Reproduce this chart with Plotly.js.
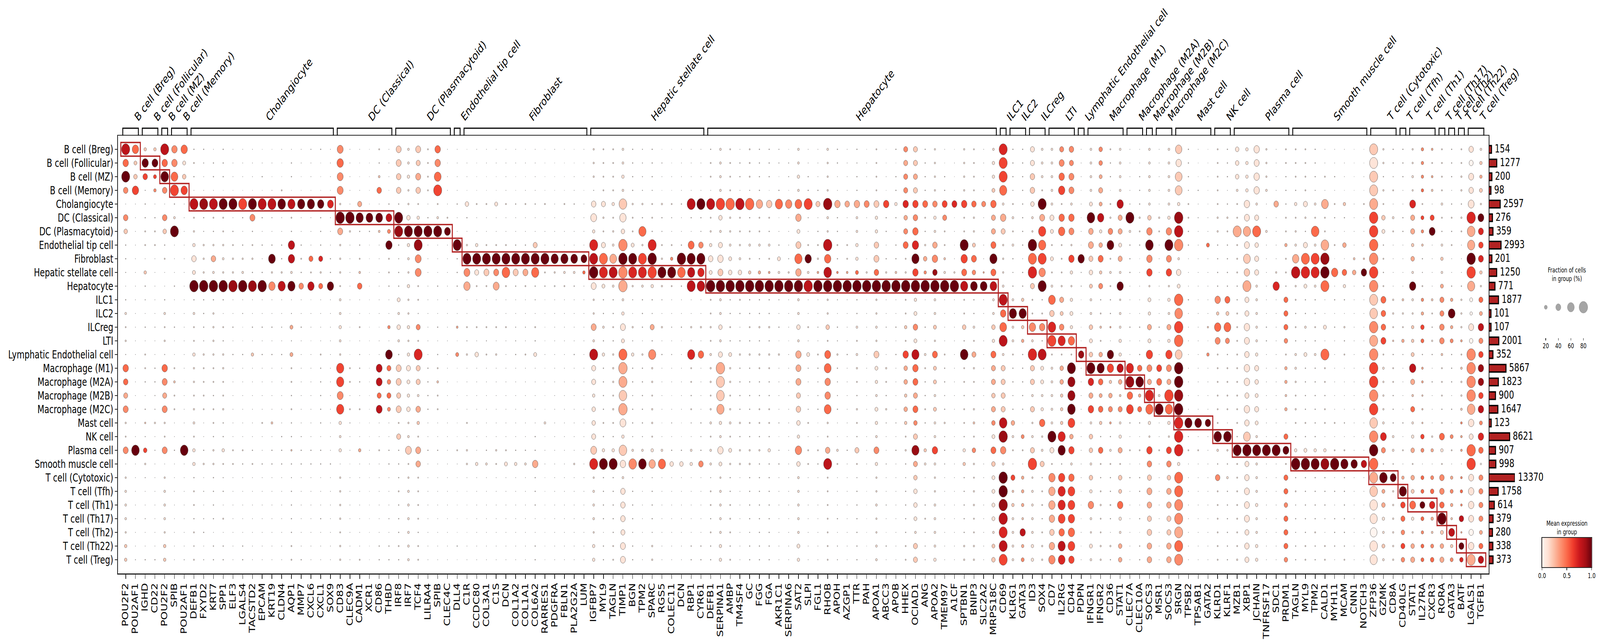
<!DOCTYPE html>
<html>
<head>
<meta charset="utf-8">
<script src="https://cdn.plot.ly/plotly-3.0.1.min.js"></script>
<style>html,body{margin:0;padding:0;background:#fff;overflow:hidden}</style>
</head>
<body>
<div id="plot"></div>
<script>
const cellTypes = ['B cell (Breg)','B cell (Follicular)','B cell (MZ)','B cell (Memory)','Cholangiocyte','DC (Classical)','DC (Plasmacytoid)','Endothelial tip cell','Fibroblast','Hepatic stellate cell','Hepatocyte','ILC1','ILC2','ILCreg','LTI','Lymphatic Endothelial cell','Macrophage (M1)','Macrophage (M2A)','Macrophage (M2B)','Macrophage (M2C)','Mast cell','NK cell','Plasma cell','Smooth muscle cell','T cell (Cytotoxic)','T cell (Tfh)','T cell (Th1)','T cell (Th17)','T cell (Th2)','T cell (Th22)','T cell (Treg)'];
const cellCounts = [154,1277,200,98,2597,276,359,2993,201,1250,771,1877,101,107,2001,352,5867,1823,900,1647,123,8621,907,998,13370,1758,614,379,280,338,373];
const markerCounts = [2,2,1,2,15,6,6,1,13,12,30,1,2,2,3,1,4,2,1,2,4,2,6,8,3,1,3,1,1,1,2];
const genes = ['POU2F2','POU2AF1','IGHD','CD22','POU2F2','SPIB','POU2AF1','DEFB1','FXYD2','KRT7','SPP1','ELF3','LGALS4','TACSTD2','EPCAM','KRT19','CLDN4','AQP1','MMP7','CXCL6','CXCL1','SOX9','CD83','CLEC9A','CADM1','XCR1','CD86','THBD','IRF8','IRF7','TCF4','LILRA4','SPIB','CLEC4C','DLL4','C1R','CCDC80','COL3A1','C1S','DCN','COL1A2','COL1A1','COL6A2','RARRES1','PDGFRA','FBLN1','PLA2G2A','LUM','IGFBP7','MYL9','TAGLN','TIMP1','BGN','TPM2','SPARC','RGS5','COLEC11','DCN','RBP1','CYR61','DEFB1','SERPINA1','AMBP','TM4SF4','GC','FGG','FGA','AKR1C1','SERPINA6','SAT2','SLPI','FGL1','RHOB','APOH','AZGP1','TTR','PAH','APOA1','ABCC3','APOB','HHEX','OCIAD1','ANG','APOA2','TMEM97','A1CF','SPTBN1','BNIP3','SLC2A2','MRPS18C','CD69','KLRG1','GATA3','ID3','SOX4','CD7','IL2RG','CD44','PDPN','IFNGR1','IFNGR2','CD36','STAT1','CLEC7A','CLEC10A','SOCS3','MSR1','SOCS3','SRGN','TPSB2','TPSAB1','GATA2','KLRD1','KLRF1','MZB1','XBP1','JCHAIN','TNFRSF17','SDC1','PRDM1','TAGLN','MYL9','TPM2','CALD1','MYH11','MCAM','CNN1','NOTCH3','ZFP36','GZMK','CD8A','CD40LG','STAT1','IL27RA','CXCR3','RORA','GATA3','BATF','LGALS1','TGFB1'];

// one string per gene, one letter per cell type (spaces only group the rows)
const fractionLetters = {'.':0.5,a:1,b:2,c:3,d:5,e:7,f:10,g:15,h:20,i:25,j:30,k:35,l:40,m:45,n:50,o:55,p:60,q:65,r:70,s:75,t:80};
const fractionByGene = [
'smsk akiccba cfdeb mkjl edla efffegg','ohio aaaaaaa aaaaa aaaa aara aaaaaab','gokb ccddagc bacad dcac ebie baabaac','gnhg acddaaa aabaa ccbb eaba aaaaaac','smrk akicdaa cfdeb mljl edla efffegg','mmps cfsaaac aacaa dfdd aaca aaaaaaa','ohio aaaaaaa aaaaa aaaa aara aaaaaab',
'cdca sdegkht cfddg eede fdgg cddcdcd','cbaa scbeeet cccbe dddd aace ababcab','acca sdcekft ceeee ddcd dcee ccccacc','ccc. sddefet cadce edde ccgd bcadacc','aaa. sacdeet aacac aaaa aadd aaaaaaa','aaa. scaceft ab..c aaaa aadc aaaaacc','aaa. slcdecs aacag aaaa aacd aaaaaaa','.ac. scacact aacac aaaa daac aaaaaaa','.a.a sbacpeo aacac aaaa facc aaaaaaa','a..d raacceq aabac aaaa accc aaaaaaa','acc. qdcoofq abhbh ddcd ccec bccccdd','aa.. qaacdck aacaa aaaa abcc aaaaaac','baa. qaaajdo .aa.a aaaa aacc aaaaaaa','c... occcjej aaaad cccc cacc aaacaaa','aaa. naaacco aaaaa aaaa aaac aaaaaaa',
'nonn etleeed ffgfe qqnq gfga eeeedee','aaaa ateaaaa a.... ddad baa. aaaaaaa','a..a jqccdfk aadab ccad .aga aaaaaad','.... .pc.... ..... .... ..aa .......','dcfk apfaaaa aa.aa nnjn aada aaaaacc','aaa. cnhoddc aagap jijh aacc aaabacc',
'llkk csscbcc hfifc lljl djcc cdcccdc','ffge eisgfeg eegeg jhgi efnd effffff','ljlk dgssnnd dbjds jjfk gdlk ddddcdd','dddd acsaaaa aaaaa cccc aaca aaaaaaa','mmps dfsaaac aacac dfdd aaca aaaaaaa','a.aa adnaaaa aaaaa aaaa aaaa aaaaaaa','aaaa caasccc aaf.h .... ..da .....c.',
'.aa. icaesno aadbe aaaa daee a....aa','a... daagsjd a.dai aaaa aaag aaaaaaa','aa.. daadsld a.dbd aaaa aacf aaaaaaa','aa.. haadsln aadae aaaa aaed aaaaaaa','aaaa daadsrd aadaa aaaa aadh aaaaaaa','aa.. caacslc aabbc aaaa aacg aaaaaaa','.a.a daacsld aabad aaaa aacf aaaaaaa','aaaa caajsqc badch aaaa accm cccaacc','.... d.aasdc ....a .... f.aa .......','a... aaaaqed aaaaa aaaa aaaa aaaaaaa','.... d.aaqfd aaaaa aaaa aaaa aaaaaaa','..aa caaapfc aaaac aaaa aaae aaaaaaa','a... aaaanga aaaaa aaaa aaaa aaaaaaa',
'eeeb kngsstl eelfs jjgi ijns efffegg','dddd jedjssh ccfcg cccc dcgs ccccacc','dddd gdefpsf ccdce eede dcgs cccccdd','ffgf roitttt fglhs tsrt ngrm fkkkjll','cccc eddhsse baebg ccbc cbfr bcccbcc','bbbb ecqessf cccae cccc cbfr aaaaaaa','cccb ddcsttg cbjcq eede edgo bcccbee','.ba. ecbdese baeac aaaa .afq aaaaaaa','..a. dbadgsd aabab aa.a baci aaaaaaa','aaaa caactrc aac.a aaaa ..ci aaaaaaa','aaaa scansqs aaeaq ddcd bafg aaaaacc','aaaa scbksor aaeam aaaa cbck aaaaacc',
'cdda sdegkht ddedf eede fdff bddcdcc','ffff tifjmlt ffifj tsrq gfmh effffgg','dddd teefhit ccdch eede fdhe ccdddcd','acca tddefit dcace cccc ecee aaaaaaa','dddb tcdfdgt ccdce cccc dcee ccccbcc','cccc oddfcgt ccece dccd dcec ccccccc','ccc. mdcfdft ccece dccd dcgc ccccccc','bb.c q.achft bac.e aaaa b.bc aaaaaaa','.bb. oaaabet aaa.a aaaa aaaa aaaaaaa','ffgf pmhlqmt ffifm lljk igoi fffffhg','aacc sbadoft aadah baab dadd aaaaaaa','aaac jacdeft aabad cbbc .adc aaaaaaa','feee tfetort eeidn pmmp edks ddddddd','ccaa mccdcft bacbe cbbc aafd aaacabb','aaaa kaaddft aaaac aaaa aaca aaaaaaa','cbcc mffgght ccfdf edce dcjd bcccccc','.aa. laaaaet .aa.a aaaa aaaa .......','dddd lggklkt eefel hgfh gflg eefeeff','..a. mccacet aabaa edce baab aaba.ca','c.cc gcaccft aacac aaaa baca aaaaaaa','jjjj mijldet ddgdm iigi gdec bccccdd','jjjj mkmoqmt ghkhq mljl ijqj iiihfjj','cccc ldceigt aacaf dccd cagf aacdbbb','eeee kgfkmkt ffhel hhfh ffmf eeffffg','a.cc ljddfft aaaad ccbc ebcb aaaaaaa','.a.. l.a.aet aaaaa aaaa aaaa aaaaaaa','eeee mddsolq ddicr ddcd dcgg cccccee','dddd keehlip ccfdj edce fdie deeddee','aaaa jaaaaep aaaaa aaaa aaaa aaaaaaa','fggh mjjlqlp ffigl jjij ihli hhhhfhi',
'sssq fmjeeef smpsf jjjj rtmf ttttsss','cccb dfdfcbc fqffd ccbc ifda jfgffff','cccc ccccacc gqggc cccc .hda gggfmgh',
'jjkk ifetstj ddoft jjfj efjt effffgg','fffd slqqsos cdmcs hhfg mefj cddcdee',
'ffff fjhdhdf pkrsd ffff fsjd ooomkmo','jlmo dmoddde jhkqd iigg gqqc oqqpmqp','kjll fmlemge ghgod sqqr pimf mppoopm',
'aaa. a.a.obb .a..m aaaa aaaa a...a.a',
'ffff hrkljih ffihi smjm fiif igmfehf','iihj hogilgj cdfdi qkhk gckd cdeddee','dcc. dekpdfd cceao ogij fcfd ccdcaec','ffff ojjhjfo effgg oifj fgjd ihmgfii',
'aaaa bsfccca aacaa qsmp cada caaaaaa','aacc cedc.aa aacac krgj cada ccac.cc',
'ffff fimrmme hgjho ljsq gemk jlkjkkk',
'aaaa aedaaaa aacaa llfs aada aaaaaaa','ffff fgmslme gfjgo ljtq gelk ikkjjkk',
'ompp gtttfkh trttp tttt tttg sssssss','cccb ddccaaa caaaa aaaa qbda aaaaaaa','a..c abaaaaa aaaaa aaaa pada aaaaaaa','..a. .aahaaa aae.g aaaa maaa aaaaaaa',
'dddd deecccc mgold dddd drfc kdddddd','ccca cedcccc lhpjc dddd arec fcccccc',
'iiif ddsdddc cdddd dddd dcsd dddddde','gggg mlqlpms jjmlk mmjm kptj kllljkj','mlmm fjsijjf ffffg jihj hfsf ffgffgg','eeef aafaaaa aacca aaaa aasa aaaaaaa','aaaa kaaaaeo aaaaa aaaa aasa aaaaaaa','ddcc cddgddc jjjid ggfg ajnd jjijjji',
'dddc gdefote dcdcf fede dcgt cdbcbcc','dddd jecjsth ccfch cccc dcht cccccdd','cccb fdrfssf ccdcf cccc ccgs ccccdcc','aada pddrtts aahas ddcd dags cccbadd','aaca dcad.oa cacaa aaaa dadt acaccca','aaa. gcaiakg caecd aaaa cadq ccccccd','.... aaaafia aaaaa aaaa aaao aaaaaaa','..a. daaaemc aaaaa aaaa aaam aaaaaaa',
'ssss stttttt srtst tttt rttt srrqprq','eece dihcdcd lkkld feee fnjc rhigfhf','ccbd afdaaaa eedec ddcc cffc neeeeee',
'ccca accaaaa fedgb aaaa cada gqkjiji',
'eefe njjgifo feggh ojfj fgid ihngeij','gggg dhgfcbd ggihc ffee eiha hhlhghh','fdff ajnaaaa fdcec acaa aega himgfhi',
'dddd fdcfgfh jjkkf dddc dlgd kkkthij','ccca cdcdaac gpghc ccac ahda ghgfngh','ddee cedaaac eeefd feef fffa fgfkeli','kjlk ntrqttq hglit tttr mjtt lmmlkms','fggh enlklge jhmjk mmkm hmke jjjjhjm'
];
// expression: digit = tenths of the scaled mean, x = 1.0
const expressionByGene = [
'85x4 0421110 11111 5534 1140 1111122','5226 0000000 00000 0000 00x0 0000000','2x61 1111021 11111 1111 2161 1111111','2x64 1111111 11111 1111 1111 1111111','85x4 0421110 11111 5434 1140 1111122','4456 11x0001 00100 1211 0010 0000000','5126 0000000 00000 0000 00x0 0000000',
'1110 811111x 11111 1111 1111 1111111','1111 911111x 11111 1111 1111 1111111','1111 811131x 11111 1111 1111 1111111','1111 x11111x 11111 1111 1111 1111111','1111 x111119 11111 1111 1111 1111111','1111 611111x 11111 1111 1111 1111111','1111 x411119 11112 1111 1111 1111111','1111 811111x 11111 1111 1111 1111111','1111 8111x14 11111 1111 2111 1111111','1111 x111118 11111 1111 1111 1111111','1111 811881x 11313 1111 1121 1111111','1111 x111114 11111 1111 1111 1111111','1111 x111518 11111 1111 1111 1111111','1111 x111715 11111 1111 1111 1111111','1111 711111x 11111 1111 1111 1111111',
'4544 1x31111 11111 6646 1110 1111111','0000 0x10000 00000 1111 0000 0000000','1111 3x11125 11111 1111 1131 1111111','0000 0x00000 00000 0000 0000 0000000','1125 1x21111 11111 8858 1111 1111111','1111 184x111 1141x 5454 1111 1111111',
'2222 1x91111 11111 2222 1211 1111111','1111 11x1111 11111 1111 1121 1111111','2232 11x9441 11417 2213 2133 1111111','1111 11x0000 00000 1111 0010 0000000','5456 11x0001 00100 1211 0010 0000000','0000 01x0000 00000 0000 0000 0000000','0000 100x111 00314 0000 0010 0000000',
'1111 1111x43 11111 1111 1111 1111111','1111 1111x11 11111 1111 1111 1111111','1111 1111x21 11111 1111 1111 1111111','1111 1111x43 11111 1111 1111 1111111','1111 1111x51 11111 1111 1111 1111111','1111 1111x21 11111 1111 1111 1111111','1111 1111x31 11111 1111 1111 1111111','1111 1112x51 11111 1111 1113 1111111','0000 1001x11 00000 0000 1000 0000000','0000 0000x10 00000 0000 0000 0000000','0000 1000x11 00000 0000 0000 0000000','0000 1000x11 00000 0000 0001 0000000','0000 0000x50 00000 0000 0000 0000000',
'1110 11178x1 11318 1111 1127 1111111','1111 1111571 11111 1111 111x 1111111','1111 1111381 11111 1111 111x 1111111','1111 2114x43 11115 3323 1121 1111111','1111 1111x71 11111 1111 1114 1111111','1111 1151671 11111 1111 111x 1111111','1111 1117x61 11314 1111 1113 1111111','1111 11111x1 11111 1111 1115 1111111','1111 11114x1 11111 1111 1111 1111111','1111 1111x51 11111 1111 1111 1111111','1111 8115x88 11117 1111 1111 1111111','1111 x114x78 11115 1111 1114 1111111',
'1110 811111x 11111 1111 1111 1111111','1111 611112x 11111 3223 1111 1111111','1111 511111x 11111 1111 1111 1111111','1111 811111x 11111 1111 1111 1111111','1111 511112x 11111 1111 1111 1111111','1111 311113x 11111 1111 1111 1111111','1111 211113x 11111 1111 1111 1111111','1111 511111x 11111 1111 1111 1111111','1111 411111x 11111 1111 1111 1111111','1111 531253x 11113 3322 1141 1111111','1111 6111x18 11111 1111 1111 1111111','1111 211113x 11111 1111 1111 1111111','1111 911858x 11215 5445 1138 1111111','1111 311114x 11111 1111 1111 1111111','1111 311113x 11111 1111 1111 1111111','1111 311115x 11111 1111 1121 1111111','1111 411111x 00000 0000 0000 0000000','1111 211225x 11112 1111 1141 1111111','1111 611111x 11111 1111 1111 1111111','1111 111112x 11111 1111 1111 1111111','4344 734511x 11216 3323 2111 1111111','2232 6457x6x 11418 5535 4293 2111122','1111 511134x 11111 1111 1121 1111111','1111 411349x 11215 2212 1161 1111111','1111 641121x 11111 1111 1111 1111111','0000 700001x 00000 0000 0000 0000000','1111 611x658 1121x 1111 1112 1111111','1111 511254x 11113 1111 2141 1111111','1111 411113x 11111 1111 1111 1111111','1112 5335x58 11215 3323 4152 1111122',
'7665 1321111 85581 2222 8941 xx98786','1111 1111111 1x111 1111 3111 6221111','1111 1111111 2x231 1111 0411 3332834',
'1122 111x572 11417 2212 1126 1111111','1111 x36564x 11418 1111 5112 1111111',
'1111 1111111 52761 1111 1x11 4333234','4456 1551111 32471 3322 27x1 6776587','4444 1541611 11151 x99x 6361 5666566',
'0000 0000x00 00009 0000 0000 0000000',
'1111 1x33212 11212 x736 1221 2141111','4433 3813524 11213 x535 2151 1111111','1111 114x111 1131x 6234 3111 1111111','1111 833131x 11111 8324 1131 2251133',
'0000 1x11110 00100 7956 1010 1000000','0000 1110000 00101 5x35 1010 1110011',
'1111 124x461 11316 4375 1164 2332233',
'0000 0110000 00100 651x 0010 0000000','1111 114x461 11316 4365 1164 2332233',
'2122 1984111 54652 xx9x 7771 5544354','1111 1111000 10000 0000 x010 0000000','0000 0000000 00000 0000 x010 0000000','0000 0005000 00204 0000 x000 0000000',
'1111 1111111 42541 1111 1x11 4111111','1111 1111111 52541 1111 1x11 1111111',
'1111 1131111 11111 1111 11x1 1111111','1111 1131223 11111 1111 12x1 1111111','1111 1151111 11111 1111 11x1 1111111','1111 0010000 00000 0000 00x0 0000000','0000 3000017 00000 0000 00x0 0000000','1111 1113111 55541 3323 05x1 5545554',
'1111 1111381 11111 1111 111x 1111111','1111 1111571 11111 1111 111x 1111111','1111 1151671 11111 1111 111x 1111111','1111 31139x5 11115 1111 1119 1111111','1111 1111151 11111 1111 111x 1111111','1111 2113151 11111 1111 111x 1111111','0000 0000230 00000 0000 000x 0000000','0000 10002x1 00000 0000 0008 0000000',
'2122 3665464 22434 6646 24x5 3211011','1111 1211111 55561 1111 1741 x331121','1111 0110000 11121 1111 1111 x111111',
'1111 0110000 21131 0000 1010 3x65464',
'1111 733231x 11222 8325 1131 3251133','4445 1642111 43651 3322 2640 55x5455','3132 06x0000 21111 1111 0130 4573245',
'1111 1111213 44442 1111 1511 445x233','1111 1111001 3x341 1111 1411 3432824','1111 1110001 11131 2112 4330 45483x7','1011 1733x63 00104 4443 1156 1111013','1232 1x76721 53846 9968 4750 4444358'
];
const sizeLegendValues = [20,40,60,80];
const colorBarTicks = [0,0.5,1];
const redsScale = [[0,'#fff5f0'],[0.125,'#fee0d2'],[0.25,'#fcbba1'],[0.375,'#fc9272'],[0.5,'#fb6a4a'],[0.625,'#ef3b2c'],[0.75,'#cb181d'],[0.875,'#a50f15'],[1,'#67000d']];

const W = 5578, H = 1645;
const fontFamily = '"DejaVu Sans", sans-serif';
const axisColor = '#262626';
const boxColor = '#b22222';
const px = v => v / W;
const py = v => 1 - v / H;

// same area rule as the dot legend: 80 % is 30 px across
const dotDiameter = pct => 30 * Math.pow(pct / 80, 0.75);

const dotX = [], dotY = [], dotSize = [], dotColor = [];
genes.forEach((gene, g) => {
  const fracs = fractionByGene[g].replace(/ /g, '');
  const exprs = expressionByGene[g].replace(/ /g, '');
  cellTypes.forEach((cell, r) => {
    dotX.push(g);
    dotY.push(r);
    dotSize.push(dotDiameter(fractionLetters[fracs[r]]));
    dotColor.push(exprs[r] === 'x' ? 1 : Number(exprs[r]) / 10);
  });
});

const shapes = [];
const annotations = [];
let firstGene = 0;
markerCounts.forEach((n, r) => {
  const lastGene = firstGene + n - 1;
  shapes.push({
    type: 'rect', xref: 'x', yref: 'y', layer: 'above',
    x0: firstGene - 0.5, x1: lastGene + 0.5, y0: r - 0.5, y1: r + 0.5,
    line: {color: boxColor, width: 3.5}
  });
  shapes.push({
    type: 'path', xref: 'x', yref: 'paper',
    path: `M ${firstGene - 0.3} ${py(347)} L ${firstGene - 0.3} ${py(328)} L ${lastGene + 0.3} ${py(328)} L ${lastGene + 0.3} ${py(347)}`,
    line: {color: '#000', width: 3}
  });
  annotations.push({
    xref: 'x', yref: 'paper', x: (firstGene + lastGene) / 2, y: py(318), xshift: 5,
    text: cellTypes[r], textangle: -45, showarrow: false,
    xanchor: 'left', yanchor: 'bottom', borderpad: 0,
    font: {family: fontFamily, size: 30, color: '#000'}
  });
  firstGene = lastGene + 1;
});

cellCounts.forEach((count, r) => {
  annotations.push({
    xref: 'x2', yref: 'y', x: Math.sqrt(count), y: r, xshift: 10, yshift: 2,
    text: String(count), showarrow: false, xanchor: 'left', yanchor: 'middle', borderpad: 0,
    font: {family: fontFamily, size: 28, color: '#000'}
  });
});

annotations.push({
  xref: 'paper', yref: 'paper', x: px(5462), y: py(702), text: 'Fraction of cells<br>in group (%)',
  showarrow: false, xanchor: 'center', yanchor: 'middle',
  font: {family: fontFamily, size: 17, color: '#000'}
});
annotations.push({
  xref: 'paper', yref: 'paper', x: px(5462), y: py(1350), text: 'Mean expression<br>in group',
  showarrow: false, xanchor: 'center', yanchor: 'middle',
  font: {family: fontFamily, size: 17, color: '#000'}
});

const barSteps = [];
for (let i = 0; i <= 255; i++) barSteps.push(i / 255);

const traces = [
  {
    type: 'scatter', mode: 'markers', x: dotX, y: dotY, xaxis: 'x', yaxis: 'y', hoverinfo: 'skip',
    marker: {
      size: dotSize, sizemode: 'diameter', color: dotColor, cmin: 0, cmax: 1,
      colorscale: redsScale, showscale: false, opacity: 1,
      line: {color: '#444444', width: 0.8}
    }
  },
  {
    type: 'bar', orientation: 'h', x: cellCounts.map(Math.sqrt), y: cellTypes.map((c, i) => i),
    xaxis: 'x2', yaxis: 'y', width: 0.55, hoverinfo: 'skip',
    marker: {color: boxColor, line: {color: '#000', width: 3.5}}
  },
  {
    type: 'scatter', mode: 'markers', x: sizeLegendValues, y: sizeLegendValues.map(() => 0),
    xaxis: 'x3', yaxis: 'y3', hoverinfo: 'skip',
    marker: {size: sizeLegendValues.map(dotDiameter), color: '#808080', line: {color: '#555', width: 0.8}}
  },
  {
    type: 'heatmap', x: barSteps, y: [0, 1], z: [barSteps, barSteps], xaxis: 'x4', yaxis: 'y4',
    colorscale: redsScale, zmin: 0, zmax: 1, showscale: false, hoverinfo: 'skip'
  }
];

const layout = {
  width: W, height: H, autosize: false, showlegend: false,
  margin: {l: 0, r: 0, t: 0, b: 0},
  paper_bgcolor: '#fff', plot_bgcolor: '#fff',
  font: {family: fontFamily, color: '#000'},
  xaxis: {
    domain: [px(411), px(5190)], range: [-0.8, 139.8], anchor: 'y',
    tickmode: 'array', tickvals: genes.map((g, i) => i), ticktext: genes,
    tickangle: -90, tickfont: {family: fontFamily, size: 28, color: '#000'},
    ticks: 'outside', ticklen: 11, tickwidth: 2, tickcolor: axisColor,
    showgrid: false, zeroline: false, showline: true, mirror: true, linecolor: axisColor, linewidth: 2.5
  },
  yaxis: {
    domain: [py(1467), py(347)], range: [31, -1], anchor: 'x',
    tickmode: 'array', tickvals: cellTypes.map((c, i) => i), ticktext: cellTypes,
    tickfont: {family: fontFamily, size: 28, color: '#000'},
    ticks: 'outside', ticklen: 8, tickwidth: 2, tickcolor: axisColor,
    showgrid: false, zeroline: false, showline: true, mirror: true, linecolor: axisColor, linewidth: 2.5
  },
  xaxis2: {
    domain: [px(5190), px(5281)], range: [0, Math.sqrt(13370)], anchor: 'y', visible: false, fixedrange: true
  },
  xaxis3: {
    domain: [px(5367.15), px(5541.95)], range: [10, 90], anchor: 'y3',
    tickmode: 'array', tickvals: sizeLegendValues, ticktext: sizeLegendValues.map(String),
    tickfont: {family: fontFamily, size: 17, color: '#000'},
    ticks: 'outside', ticklen: 6, tickwidth: 2, tickcolor: axisColor,
    showgrid: false, zeroline: false, showline: false
  },
  yaxis3: {domain: [py(864), py(766)], range: [-3.9, 1], anchor: 'x3', visible: false},
  xaxis4: {
    domain: [px(5376), px(5549)], range: [0, 1], anchor: 'y4',
    tickmode: 'array', tickvals: colorBarTicks, ticktext: colorBarTicks.map(v => v.toFixed(1)),
    tickfont: {family: fontFamily, size: 17, color: '#000'},
    ticks: 'outside', ticklen: 6, tickwidth: 2, tickcolor: axisColor,
    showgrid: false, zeroline: false, showline: true, mirror: true, linecolor: axisColor, linewidth: 2
  },
  yaxis4: {
    domain: [py(1451), py(1376)], range: [0, 1], anchor: 'x4',
    showticklabels: false, ticks: '', showgrid: false, zeroline: false,
    showline: true, mirror: true, linecolor: axisColor, linewidth: 2
  },
  shapes: shapes,
  annotations: annotations
};

// the window can come up narrower than the chart, squeeze it across so nothing is cut off
const plotDiv = document.getElementById('plot');
const fit = Math.min(1, window.innerWidth / W);
plotDiv.style.width = W + 'px';
plotDiv.style.transformOrigin = '0 0';
plotDiv.style.transform = `scale(${fit}, 1)`;

Plotly.newPlot('plot', traces, layout, {displayModeBar: false, staticPlot: true});
</script>
</body>
</html>
